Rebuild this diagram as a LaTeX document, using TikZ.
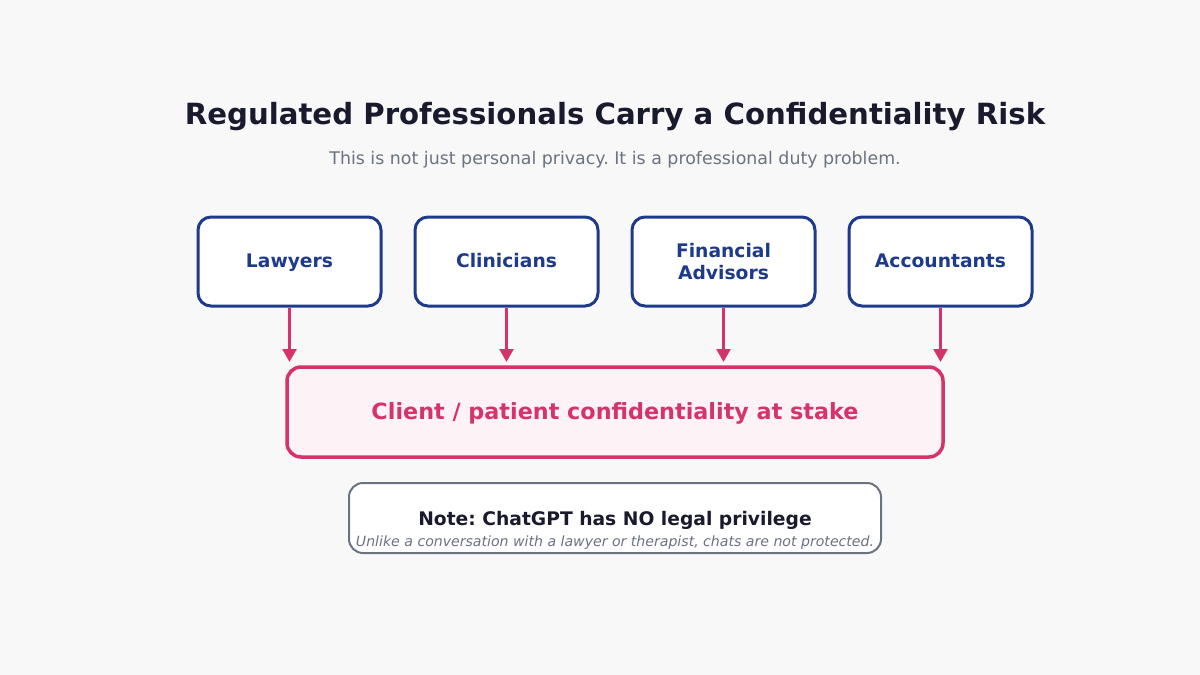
\documentclass[tikz,border=0pt]{standalone}
\usepackage{fontspec}
\setmainfont{DejaVu Sans}
\usetikzlibrary{arrows.meta}
\definecolor{bg}{HTML}{F8F8F8}
\definecolor{titlec}{HTML}{1A1A2E}
\definecolor{subc}{HTML}{6B7280}
\definecolor{navy}{HTML}{1E3A8A}
\definecolor{pinkc}{HTML}{D6336C}
\definecolor{pinkfill}{HTML}{FDF2F5}
\frenchspacing
\begin{document}
\begin{tikzpicture}[x=1pt,y=-1pt,
  prof/.style={draw=navy, line width=3pt, fill=white, rounded corners=13pt,
    minimum width=183pt, minimum height=89pt, text=navy, text height=13.5pt, text depth=2pt,
    font=\fontsize{18.7}{22}\selectfont\bfseries},
  arr/.style={draw=pinkc, line width=2.5pt, -{Triangle[length=13pt,width=14pt]}},
  stakebox/.style={draw=pinkc, line width=3.5pt, fill=pinkfill, rounded corners=14pt,
    minimum width=656pt, minimum height=90pt},
  notebox/.style={draw=subc, line width=2pt, fill=white, rounded corners=14pt,
    minimum width=532pt, minimum height=70pt}
]
\fill[bg] (0,0) rectangle (1200,675);
\useasboundingbox (0,0) rectangle (1200,675);
\node (title) at (615,117) {\fontsize{29.2}{34}\selectfont\bfseries\color{titlec}Regulated Professionals Carry a Confidentiality Risk};
\node (sub) at (615,159.5) {\fontsize{17.4}{21}\selectfont\color{subc}This is not just personal privacy. It is a professional duty problem.};
\node[prof] (law) at (289.5,261.5) {Lawyers};
\node[prof] (cli) at (506.5,261.5) {Clinicians};
\node[prof, text height=, text depth=, align=center, font=\fontsize{18.7}{21.5}\selectfont\bfseries] (fin) at (723.5,261.5) {Financial\\Advisors};
\node[prof] (acc) at (940.5,261.5) {Accountants};
\node[stakebox] (stake) at (615,412) {};
\node[text=pinkc, font=\fontsize{22.3}{26}\selectfont\bfseries] (staket) at (615,413) {Client / patient confidentiality at stake};
\coordinate (t1) at (289.5,362);
\coordinate (t2) at (506.5,362);
\coordinate (t3) at (723.5,362);
\coordinate (t4) at (940.5,362);
\draw[arr] (law.south) -- (t1);
\draw[arr] (cli.south) -- (t2);
\draw[arr] (fin.south) -- (t3);
\draw[arr] (acc.south) -- (t4);
\node[notebox] (note) at (615,518) {};
\node (notet) at (615,520) {\fontsize{18.7}{22}\selectfont\bfseries\color{titlec}Note: ChatGPT has NO legal privilege};
\node (notes) at (615,542.5) {\fontsize{14.1}{17}\selectfont\itshape\color{subc}Unlike a conversation with a lawyer or therapist, chats are not protected.};
\end{tikzpicture}
\end{document}
